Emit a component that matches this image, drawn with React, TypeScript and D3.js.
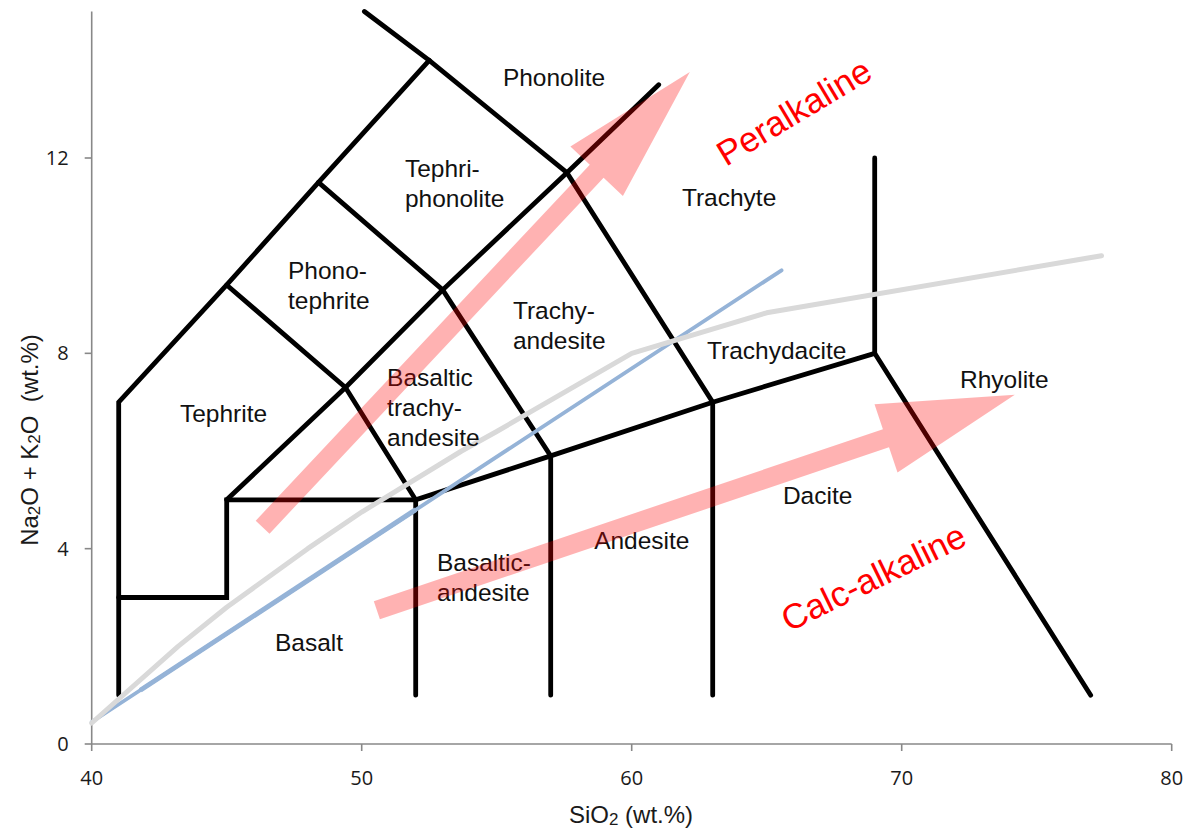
import React from "react";
import * as d3 from "d3";

const W = 1193;
const H = 829;

// Axis ticks
const xTicks = [40, 50, 60, 70, 80];
const yTicks = [0, 4, 8, 12];

// TAS boundary polylines [SiO2, Na2O+K2O]
const boundaries: [number, number][][] = [
  [[41, 1], [41, 7], [45, 9.4], [48.4, 11.5], [52.5, 14]],
  [[50.1, 15], [52.5, 14], [57.6, 11.7], [63, 7], [63, 1]],
  [[41, 3], [45, 3], [45, 5], [52, 5], [57, 5.9], [63, 7], [69, 8], [77, 1]],
  [[45, 5], [49.4, 7.3], [53, 9.3], [57.6, 11.7], [61, 13.5]],
  [[45, 9.4], [49.4, 7.3], [52, 5], [52, 1]],
  [[48.4, 11.5], [53, 9.3], [57, 5.9], [57, 1]],
  [[69, 12], [69, 8]],
];

// Alkaline / subalkaline divide (straight)
const blueLine: [number, number][] = [[40, 0.45], [65.55, 9.7]];
const blueLineLow: [number, number][] = [[41.8, 1.1], [52, 4.8]];
// Irvine & Baragar curve
const grayLine: [number, number][] = [
  [40, 0.43], [43.2, 2.0], [45, 2.8], [48, 4.0], [50, 4.75], [53.7, 6.0],
  [55, 6.4], [60, 8.0], [65, 8.83], [77.4, 10.0],
];

// Trend arrows: start and tip
const arrows = [
  { name: "Peralkaline", start: [46.33, 4.44], tip: [62.15, 13.76] },
  { name: "Calc-alkaline", start: [50.56, 2.74], tip: [74.19, 7.15] },
];

// Field labels (left edge, first line centre)
const fieldLabels: { lines: string[]; x: number; y: number }[] = [
  { lines: ["Phonolite"], x: 55.23, y: 13.66 },
  { lines: ["Tephri-", "phonolite"], x: 51.6, y: 11.79 },
  { lines: ["Trachyte"], x: 61.86, y: 11.2 },
  { lines: ["Phono-", "tephrite"], x: 47.27, y: 9.71 },
  { lines: ["Trachy-", "andesite"], x: 55.6, y: 8.89 },
  { lines: ["Trachydacite"], x: 62.79, y: 8.07 },
  { lines: ["Basaltic", "trachy-", "andesite"], x: 50.94, y: 7.52 },
  { lines: ["Tephrite"], x: 43.27, y: 6.78 },
  { lines: ["Rhyolite"], x: 72.16, y: 7.47 },
  { lines: ["Dacite"], x: 65.6, y: 5.1 },
  { lines: ["Andesite"], x: 58.61, y: 4.18 },
  { lines: ["Basaltic-", "andesite"], x: 52.79, y: 3.73 },
  { lines: ["Basalt"], x: 46.79, y: 2.09 },
];

const trendLabels = [
  { text: "Peralkaline", x: 66.0, y: 12.95, angle: -31 },
  { text: "Calc-alkaline", x: 68.95, y: 3.42, angle: -26 },
];

const x = d3.scaleLinear().domain([40, 80]).range([91.7, 1171.7]);
const y = d3.scaleLinear().domain([0, 15]).range([744, 11.5]);

const line = d3
  .line<[number, number]>()
  .x((d) => x(d[0]))
  .y((d) => y(d[1]));

function arrowPath(start: number[], tip: number[], shaftHalf: number, headHalf: number, headLen: number) {
  const sx = x(start[0]);
  const sy = y(start[1]);
  const tx = x(tip[0]);
  const ty = y(tip[1]);
  const dx = tx - sx;
  const dy = ty - sy;
  const L = Math.hypot(dx, dy);
  const ux = dx / L;
  const uy = dy / L;
  const px = -uy;
  const py = ux;
  const bx = tx - ux * headLen;
  const by = ty - uy * headLen;
  const pts = [
    [sx + px * shaftHalf, sy + py * shaftHalf],
    [bx + px * shaftHalf, by + py * shaftHalf],
    [bx + px * headHalf, by + py * headHalf],
    [tx, ty],
    [bx - px * headHalf, by - py * headHalf],
    [bx - px * shaftHalf, by - py * shaftHalf],
    [sx - px * shaftHalf, sy - py * shaftHalf],
  ];
  return "M" + pts.map((p) => p[0].toFixed(1) + "," + p[1].toFixed(1)).join("L") + "Z";
}

export default function App() {
  const axisColor = "#888888";
  const labelFont = "'Liberation Sans', Arial, sans-serif";
  const tickFont = "'Open Sans', 'Liberation Sans', sans-serif";
  return (
    <svg
      width={W}
      height={H}
      style={{ position: "absolute", left: 0, top: 0, background: "#fff" }}
    >
      <rect x={0} y={0} width={W} height={H} fill="#fff" />
      {/* axes */}
      <line x1={x(40)} y1={y(0)} x2={x(80)} y2={y(0)} stroke={axisColor} strokeWidth={1.6} />
      <line x1={x(40)} y1={y(0)} x2={x(40)} y2={y(15)} stroke={axisColor} strokeWidth={1.6} />
      {xTicks.map((t) => (
        <g key={"xt" + t}>
          <line x1={x(t)} x2={x(t)} y1={y(0)} y2={y(0) + 7} stroke={axisColor} strokeWidth={1.6} />
          <text
            x={x(t)}
            y={y(0) + 41}
            textAnchor="middle"
            fontFamily={tickFont}
            fontSize={20}
            fill="#1a1a1a"
          >
            {t}
          </text>
        </g>
      ))}
      {yTicks.map((t) => (
        <g key={"yt" + t}>
          <line x1={x(40) - 7} x2={x(40)} y1={y(t)} y2={y(t)} stroke={axisColor} strokeWidth={1.6} />
          <text
            x={x(40) - 23}
            y={y(t) + 7}
            textAnchor="end"
            fontFamily={tickFont}
            fontSize={20}
            fill="#1a1a1a"
          >
            {t}
          </text>
        </g>
      ))}
      {/* axis titles */}
      <text x={631} y={823} textAnchor="middle" fontFamily={labelFont} fontSize={24} fill="#1a1a1a">
        SiO<tspan fontSize={17} dy={2}>2</tspan>
        <tspan dy={-2}> (wt.%)</tspan>
      </text>
      <text
        transform={`translate(38,440) rotate(-90)`}
        textAnchor="middle"
        fontFamily={labelFont}
        fontSize={24}
        fill="#1a1a1a"
        style={{ whiteSpace: "pre" }}
      >
        Na<tspan fontSize={17} dy={2}>2</tspan>
        <tspan dy={-2}>O + K</tspan>
        <tspan fontSize={17} dy={2}>2</tspan>
        <tspan dy={-2}>{"O  (wt.%)"}</tspan>
      </text>

      {/* TAS field boundaries */}
      {boundaries.map((b, i) => (
        <path
          key={"b" + i}
          d={line(b) || ""}
          fill="none"
          stroke="#000"
          strokeWidth={4.8}
          strokeLinejoin="miter"
          strokeLinecap="round"
        />
      ))}

      {/* divide lines */}
      <path d={line(blueLine) || ""} fill="none" stroke="#95b3d7" strokeWidth={3.8} strokeLinecap="round" />
      <path d={line(blueLineLow) || ""} fill="none" stroke="#95b3d7" strokeWidth={5} strokeLinecap="butt" />
      <path d={line(grayLine) || ""} fill="none" stroke="#d9d9d9" strokeWidth={5} strokeLinecap="round" strokeLinejoin="round" />

      {/* field labels */}
      {fieldLabels.map((l, i) => (
        <text
          key={"l" + i}
          x={x(l.x)}
          y={y(l.y)}
          fontFamily={labelFont}
          fontSize={24.5}
          fill="#111"
          dominantBaseline="central"
        >
          {l.lines.map((s, j) => (
            <tspan key={j} x={x(l.x)} dy={j === 0 ? 0 : 30}>
              {s}
            </tspan>
          ))}
        </text>
      ))}

      {/* trend arrows */}
      {arrows.map((a) => (
        <path
          key={a.name}
          d={arrowPath(a.start, a.tip, 9.5, 36, 136)}
          fill="#ff0000"
          fillOpacity={0.3}
        />
      ))}
      {trendLabels.map((t) => (
        <text
          key={t.text}
          transform={`translate(${x(t.x)},${y(t.y)}) rotate(${t.angle})`}
          textAnchor="middle"
          dominantBaseline="central"
          fontFamily={labelFont}
          fontSize={35}
          fill="#ff0000"
        >
          {t.text}
        </text>
      ))}
    </svg>
  );
}
